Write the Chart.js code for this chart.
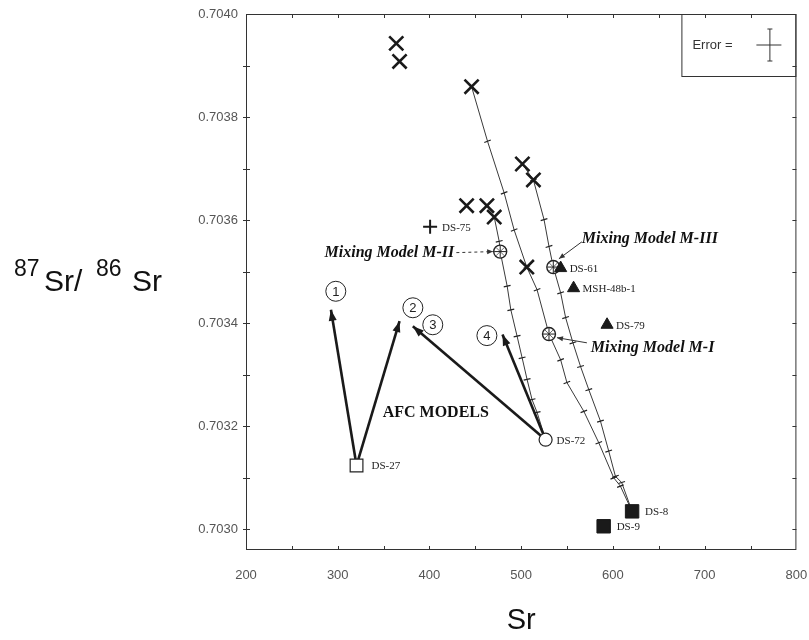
<!DOCTYPE html>
<html>
<head>
<meta charset="utf-8">
<script src="https://cdn.jsdelivr.net/npm/chart.js@4.4.1/dist/chart.umd.min.js"></script>
<style>
  html, body { margin: 0; padding: 0; background: #fff; }
  #wrap { width: 809px; height: 640px; position: relative; }
</style>
</head>
<body>
<div id="wrap"><canvas id="c" width="809" height="640"></canvas></div>
<script>
// ---- Axis ticks ----
const xTickValues = [200, 300, 400, 500, 600, 700, 800];
const yTickValues = [0.7030, 0.7032, 0.7034, 0.7036, 0.7038, 0.7040];

// ---- Samples drawn as crosses ----
const crossSr    = [363.8, 367.4, 445.9, 501.3, 513.3, 440.5, 462.6, 470.6, 506.1];
const crossRatio = [0.703943, 0.703908, 0.703859, 0.703709, 0.703678, 0.703628, 0.703628, 0.703606, 0.703509];

// ---- Labelled samples ----
const plusNames = ['DS-75'];
const plusSr    = [400.7];
const plusRatio = [0.703587];

const triNames = ['DS-61', 'MSH-48b-1', 'DS-79'];
const triSr    = [543.0, 557.1, 593.6];
const triRatio = [0.703507, 0.703468, 0.703397];

const openCircleNames = ['DS-72'];
const openCircleSr    = [526.6];
const openCircleRatio = [0.703174];

const openSquareNames = ['DS-27'];
const openSquareSr    = [320.5];
const openSquareRatio = [0.703124];

const squareNames = ['DS-8', 'DS-9'];
const squareSr    = [620.9, 589.9];
const squareRatio = [0.703035, 0.703006];

// ---- Mixing models ----
const mixModelNames = ['Mixing Model M-I', 'Mixing Model M-II', 'Mixing Model M-III'];
const mixModelSr    = [530.3, 477.1, 535.0];
const mixModelRatio = [0.703379, 0.703539, 0.703509];
const mixLabelSr    = [575.9, 427.1, 566.1];
const mixLabelRatio = [0.703353, 0.703537, 0.703564];
const mixPointerFromSr    = [571.6, 429.3, 566.1];
const mixPointerFromRatio = [0.703362, 0.703537, 0.703558];
const mixPointerToSr      = [539.0, 469.4, 541.1];
const mixPointerToRatio   = [0.703372, 0.703539, 0.703525];

// Mixing curves (end members and the tick marks along each curve)
const curveM2Sr    = [470.6, 476.0, 477.1, 484.7, 488.7, 495.5, 501.0, 506.4, 511.8, 517.3, 526.6];
const curveM2Ratio = [0.703606, 0.703559, 0.703539, 0.703472, 0.703426, 0.703375, 0.703333, 0.703291, 0.703252, 0.703227, 0.703174];

const curveM1Sr    = [445.9, 463.3, 481.4, 492.3, 506.1, 517.3, 530.3, 543.0, 549.8, 568.3, 584.6, 600.9, 608.1, 620.9];
const curveM1Ratio = [0.703859, 0.703753, 0.703653, 0.703581, 0.703509, 0.703465, 0.703379, 0.703329, 0.703285, 0.703229, 0.703168, 0.703100, 0.703084, 0.703035];

const curveM3Sr    = [501.3, 513.3, 524.9, 530.3, 535.0, 543.0, 548.4, 556.4, 564.7, 573.7, 586.4, 595.4, 602.7, 609.5, 620.9];
const curveM3Ratio = [0.703709, 0.703678, 0.703601, 0.703549, 0.703509, 0.703459, 0.703411, 0.703362, 0.703316, 0.703271, 0.703210, 0.703152, 0.703103, 0.703091, 0.703035];

// ---- AFC models: each arrow starts at a parent sample ----
const afcFromSr    = [320.5, 320.5, 526.6, 526.6];
const afcFromRatio = [0.703124, 0.703124, 0.703174, 0.703174];
const afcToSr      = [292.6, 367.4, 381.9, 479.6];
const afcToRatio   = [0.703426, 0.703404, 0.703394, 0.703378];
const afcNumbers     = ['1', '2', '3', '4'];
const afcNumberSr    = [297.9, 381.9, 403.6, 462.6];
const afcNumberRatio = [0.703462, 0.703430, 0.703397, 0.703376];
const afcTitle      = 'AFC MODELS';
const afcTitleSr    = 349.0;
const afcTitleRatio = 0.703227;

// ---- helpers ----
const pts = (xs, ys) => xs.map((x, i) => ({ x, y: ys[i] }));
const INK = '#1a1a1a';
const SERIF = '"Liberation Serif", "Times New Roman", serif';
const SANS = '"Liberation Sans", Arial, sans-serif';

function curveDataset(xs, ys, rot) {
  return {
    data: pts(xs, ys),
    showLine: true,
    borderColor: '#3a3a3a',
    borderWidth: 1,
    pointStyle: 'line',
    pointRotation: rot,
    pointBorderColor: '#222',
    pointBorderWidth: 1.2,
    pointRadius: ctx => (ctx.dataIndex === 0 || ctx.dataIndex === xs.length - 1) ? 0 : 3.5,
    order: 6
  };
}

const datasets = [];

// mixing curves
datasets.push(curveDataset(curveM2Sr, curveM2Ratio, -13));
datasets.push(curveDataset(curveM1Sr, curveM1Ratio, -21));
datasets.push(curveDataset(curveM3Sr, curveM3Ratio, -17));

// pointers from the mixing-model labels
mixModelNames.forEach((n, i) => {
  datasets.push({
    data: [{ x: mixPointerFromSr[i], y: mixPointerFromRatio[i] }, { x: mixPointerToSr[i], y: mixPointerToRatio[i] }],
    showLine: true, borderColor: '#333', borderWidth: 1,
    borderDash: i === 1 ? [3, 3] : [],
    pointRadius: 0, arrowHead: { len: 6, half: 2.5 }, order: 5
  });
});

// AFC arrows
afcToSr.forEach((x, i) => {
  datasets.push({
    data: [{ x: afcFromSr[i], y: afcFromRatio[i] }, { x, y: afcToRatio[i] }],
    showLine: true, borderColor: INK, borderWidth: 2.6,
    pointRadius: 0, arrowHead: { len: 11, half: 4 }, order: 4
  });
});

// circled model numbers
datasets.push({
  data: pts(afcNumberSr, afcNumberRatio),
  pointStyle: 'circle', pointRadius: 10, pointBackgroundColor: '#fff',
  pointBorderColor: '#222', pointBorderWidth: 1, order: 3
});

// sample markers
datasets.push({
  data: pts(crossSr, crossRatio), pointStyle: 'crossRot', pointRadius: 10,
  pointBorderColor: INK, pointBorderWidth: 2.6, order: 1
});
datasets.push({
  data: pts(plusSr, plusRatio), pointStyle: 'cross', pointRadius: 7,
  pointBorderColor: INK, pointBorderWidth: 2, order: 1
});
datasets.push({
  data: pts(mixModelSr, mixModelRatio), pointStyle: 'circle', pointRadius: 6.5,
  pointBackgroundColor: '#fff', pointBorderColor: '#222', pointBorderWidth: 1.4, order: 2
});
datasets.push({
  data: pts(mixModelSr, mixModelRatio), pointStyle: 'cross', pointRadius: 6,
  pointBorderColor: '#222', pointBorderWidth: 1, order: 1
});
datasets.push({
  data: pts(mixModelSr, mixModelRatio), pointStyle: 'crossRot', pointRadius: 6,
  pointBorderColor: '#444', pointBorderWidth: 0.8, order: 1
});
datasets.push({
  data: pts(triSr, triRatio), pointStyle: 'triangle', pointRadius: 7,
  pointBackgroundColor: INK, pointBorderColor: INK, pointBorderWidth: 1, order: 0
});
datasets.push({
  data: pts(openCircleSr, openCircleRatio), pointStyle: 'circle', pointRadius: 6.5,
  pointBackgroundColor: '#fff', pointBorderColor: '#222', pointBorderWidth: 1.2, order: 0
});
datasets.push({
  data: pts(openSquareSr, openSquareRatio), pointStyle: 'rect', pointRadius: 9,
  pointBackgroundColor: '#fff', pointBorderColor: '#222', pointBorderWidth: 1.2, order: 0
});
datasets.push({
  data: pts(squareSr, squareRatio), pointStyle: 'rect', pointRadius: 9.5,
  pointBackgroundColor: INK, pointBorderColor: INK, pointBorderWidth: 1, order: 0
});

// ---- drawing of frame, ticks, annotations and titles ----
const decor = {
  id: 'decor',
  afterDatasetsDraw(chart) {
    const { ctx, chartArea: a, scales: { x, y } } = chart;
    ctx.save();

    // arrowheads at the end of flagged datasets
    chart.data.datasets.forEach((ds, di) => {
      if (!ds.arrowHead) return;
      const m = chart.getDatasetMeta(di).data;
      const p0 = m[m.length - 2], p1 = m[m.length - 1];
      const ang = Math.atan2(p1.y - p0.y, p1.x - p0.x);
      const { len, half } = ds.arrowHead;
      const bx = p1.x - Math.cos(ang) * len, by = p1.y - Math.sin(ang) * len;
      ctx.beginPath();
      ctx.moveTo(p1.x, p1.y);
      ctx.lineTo(bx - Math.sin(ang) * half, by + Math.cos(ang) * half);
      ctx.lineTo(bx + Math.sin(ang) * half, by - Math.cos(ang) * half);
      ctx.closePath();
      ctx.fillStyle = ds.borderColor;
      ctx.fill();
    });

    // frame
    ctx.strokeStyle = '#333';
    ctx.lineWidth = 1;
    ctx.strokeRect(a.left + 0.5, a.top + 0.5, a.right - a.left - 1, a.bottom - a.top - 1);

    // inward tick marks on all four sides
    ctx.beginPath();
    for (let v = 250; v < 800; v += 50) {
      const px = Math.round(x.getPixelForValue(v)) + 0.5;
      ctx.moveTo(px, a.bottom); ctx.lineTo(px, a.bottom - 4);
      ctx.moveTo(px, a.top); ctx.lineTo(px, a.top + 4);
    }
    for (let k = 0; k < 10; k++) {
      const py = Math.round(y.getPixelForValue(0.7030 + k * 0.0001)) + 0.5;
      ctx.moveTo(a.left - 3, py); ctx.lineTo(a.left + 4, py);
      ctx.moveTo(a.right, py); ctx.lineTo(a.right - 4, py);
    }
    ctx.stroke();

    // error legend box
    const bw = 115, bh = 62;
    const bl = a.right - bw, bt = a.top;
    ctx.strokeRect(bl + 0.5, bt + 0.5, bw - 1, bh);
    ctx.fillStyle = '#333';
    ctx.font = '13px ' + SANS;
    ctx.textAlign = 'left';
    ctx.textBaseline = 'middle';
    ctx.fillText('Error =', bl + 11, bt + 31);
    const cx = bl + 88, cy = bt + 31;
    ctx.beginPath();
    ctx.moveTo(cx - 13, cy); ctx.lineTo(cx + 12, cy);
    ctx.moveTo(cx + 0.5, cy - 16); ctx.lineTo(cx + 0.5, cy + 16);
    ctx.moveTo(cx - 2, cy - 16); ctx.lineTo(cx + 3, cy - 16);
    ctx.moveTo(cx - 2, cy + 16); ctx.lineTo(cx + 3, cy + 16);
    ctx.stroke();

    // sample names
    ctx.fillStyle = '#222';
    ctx.font = '11px ' + SERIF;
    ctx.textBaseline = 'middle';
    const nameGroups = [
      [plusNames, plusSr, plusRatio, 12],
      [triNames, triSr, triRatio, 9],
      [openCircleNames, openCircleSr, openCircleRatio, 11],
      [openSquareNames, openSquareSr, openSquareRatio, 15],
      [squareNames, squareSr, squareRatio, 13]
    ];
    nameGroups.forEach(([names, xs, ys, dx]) => {
      names.forEach((n, i) => {
        ctx.fillText(n, x.getPixelForValue(xs[i]) + dx, y.getPixelForValue(ys[i]) + 1);
      });
    });

    // mixing model labels
    ctx.font = 'bold italic 16px ' + SERIF;
    ctx.fillStyle = '#111';
    mixModelNames.forEach((n, i) => {
      ctx.textAlign = i === 1 ? 'right' : 'left';
      ctx.fillText(n, x.getPixelForValue(mixLabelSr[i]), y.getPixelForValue(mixLabelRatio[i]));
    });

    // AFC models title and circled numbers
    ctx.textAlign = 'left';
    ctx.font = 'bold 16px ' + SERIF;
    ctx.fillText(afcTitle, x.getPixelForValue(afcTitleSr), y.getPixelForValue(afcTitleRatio));
    ctx.font = '13px ' + SANS;
    ctx.textAlign = 'center';
    ctx.fillStyle = '#222';
    afcNumbers.forEach((n, i) => {
      ctx.fillText(n, x.getPixelForValue(afcNumberSr[i]), y.getPixelForValue(afcNumberRatio[i]) + 1);
    });

    // axis titles
    ctx.fillStyle = '#111';
    ctx.textBaseline = 'alphabetic';
    ctx.textAlign = 'center';
    ctx.font = '29px ' + SANS;
    ctx.fillText('Sr', (a.left + a.right) / 2, 629);

    ctx.textAlign = 'left';
    const parts = [['87', 23, 14, 276], ['Sr/', 30, 44, 291], ['86', 23, 96, 276], ['Sr', 30, 132, 291]];
    parts.forEach(([t, fs, tx, base]) => {
      ctx.font = fs + 'px ' + SANS;
      ctx.fillText(t, tx, base);
    });

    ctx.restore();
  }
};

new Chart(document.getElementById('c'), {
  type: 'scatter',
  data: { datasets },
  options: {
    responsive: false,
    devicePixelRatio: 1,
    animation: false,
    layout: { padding: { top: 14, right: 11, left: 0, bottom: 0 } },
    plugins: { legend: { display: false }, tooltip: { enabled: false } },
    scales: {
      x: {
        type: 'linear', min: 200, max: 800,
        afterFit: s => { s.height = 90; s.paddingLeft = 0; s.paddingRight = 0; },
        afterBuildTicks: s => { s.ticks = xTickValues.map(v => ({ value: v })); },
        grid: { display: false, drawTicks: false },
        border: { display: false },
        ticks: { color: '#555', font: { family: SANS, size: 13 }, padding: 18,
                 maxRotation: 0, autoSkip: false, callback: v => String(v) }
      },
      y: {
        type: 'linear', min: 0.70296, max: 0.7040,
        afterFit: s => { s.width = 246; s.paddingTop = 0; s.paddingBottom = 0; },
        afterBuildTicks: s => { s.ticks = yTickValues.map(v => ({ value: v })); },
        grid: { display: false, drawTicks: false },
        border: { display: false },
        ticks: { color: '#555', font: { family: SANS, size: 13 }, padding: 8,
                 autoSkip: false, callback: v => v.toFixed(4) }
      }
    }
  },
  plugins: [decor]
});
</script>
</body>
</html>
